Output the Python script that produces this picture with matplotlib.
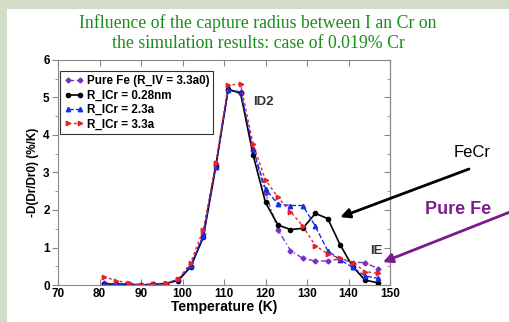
import matplotlib.pyplot as plt
from matplotlib.patches import Rectangle

# temperatures (K)
T = [81, 84, 87, 90, 93, 96, 99, 102, 105, 108, 111, 114,
     117, 120, 123, 126, 129, 132, 135, 138, 141, 144, 147]

pure_fe = [0.05, 0.03, 0.02, 0.0, 0.02, 0.04, 0.14, 0.5, 1.35, 3.2, 5.2, 5.15,
           3.6, 2.45, 1.47, 0.92, 0.71, 0.64, 0.64, 0.70, 0.6, 0.6, 0.44]
r_028 = [0.03, 0.02, 0.02, 0.0, 0.02, 0.04, 0.12, 0.49, 1.27, 3.14, 5.22, 5.11,
         3.47, 2.2, 1.6, 1.48, 1.51, 1.91, 1.77, 1.07, 0.49, 0.13, 0.06]
r_23 = [0.03, 0.02, 0.02, 0.0, 0.02, 0.04, 0.16, 0.52, 1.3, 3.15, 5.2, 5.15,
        3.63, 2.56, 2.16, 2.12, 2.12, 1.57, 0.91, 0.67, 0.47, 0.24, 0.18]
r_33 = [0.22, 0.12, 0.05, 0.01, 0.03, 0.05, 0.15, 0.6, 1.47, 3.24, 5.33, 5.36,
        3.76, 2.8, 2.34, 1.96, 1.57, 1.05, 0.83, 0.71, 0.6, 0.36, 0.31]

labels = ['Pure Fe (R_IV = 3.3a0)', 'R_ICr = 0.28nm', 'R_ICr = 2.3a', 'R_ICr = 3.3a']

fig = plt.figure(figsize=(5.1, 3.22), dpi=100)
fig.patch.set_facecolor('#d3dbc9')
fig.patches.append(Rectangle((7 / 510, 0), 1, 1 - 9 / 322, transform=fig.transFigure,
                             facecolor='white', edgecolor='none', zorder=-5))

ax = fig.add_axes([58 / 510, 1 - 285 / 322, 332 / 510, 225 / 322])

ax.plot(T, pure_fe, linestyle=(0, (4, 2, 1, 2)), color='#7a2fc0', marker='D',
        markersize=2.5, lw=1, label=labels[0])
ax.plot(T, r_028, '-', color='black', marker='o', markersize=3, lw=1.2, label=labels[1])
ax.plot(T, r_23, '--', color='#1530e0', marker='^', markersize=3.2, lw=1, label=labels[2])
ax.plot(T, r_33, linestyle=(0, (2, 2)), color='#e8202a', marker='>', markersize=3.2,
        lw=1, label=labels[3])

ax.set_xlim(70, 150)
ax.set_ylim(0, 6)
ax.set_xticks([70, 80, 90, 100, 110, 120, 130, 140, 150])
ax.set_yticks([0, 1, 2, 3, 4, 5, 6])
ax.set_yticks([0.5, 1.5, 2.5, 3.5, 4.5, 5.5], minor=True)
for s in ax.spines.values():
    s.set_color('#888888')
ax.tick_params(axis='x', direction='in', top=True, length=4, color='#888888',
               labelsize=8.5, pad=2)
ax.tick_params(axis='y', which='both', direction='out', color='#888888', labelsize=8.5, pad=2)
ax.tick_params(axis='y', which='major', length=4)
ax.tick_params(axis='y', which='minor', length=2)
for lab in ax.get_xticklabels() + ax.get_yticklabels():
    lab.set_fontweight('bold')
    lab.set_family('Liberation Sans')

sec = ax.secondary_yaxis('right')
sec.set_yticks([0, 1, 2, 3, 4, 5, 6])
sec.set_yticks([0.5, 1.5, 2.5, 3.5, 4.5, 5.5], minor=True)
sec.tick_params(which='both', direction='in', color='#888888', labelright=False)
sec.tick_params(which='major', length=4)
sec.tick_params(which='minor', length=2)
sec.spines['right'].set_color('#888888')

ax.set_xlabel('Temperature (K)', fontsize=10, fontweight='bold',
              family='Liberation Sans', labelpad=0)
ax.set_ylabel('-D(Dr/Dr0) (%/K)', fontsize=8.5, fontweight='bold',
              family='Liberation Sans', labelpad=3)

leg = ax.legend(loc='upper left', bbox_to_anchor=(0.0, 0.96), fancybox=False,
                edgecolor='#333333', framealpha=1, handlelength=1.6, numpoints=2,
                borderpad=0.35, labelspacing=0.2, handletextpad=0.3, borderaxespad=0.2,
                prop={'family': 'Liberation Sans', 'weight': 'bold', 'size': 8.4})
leg.get_frame().set_linewidth(0.8)

ax.text(119.5, 4.88, 'ID2', fontsize=9.5, fontweight='bold', color='#333333',
        family='Liberation Sans', ha='center', va='center')
ax.text(146.6, 0.9, 'IE', fontsize=9.5, fontweight='bold', color='#333333',
        family='Liberation Sans', ha='center', va='center')

ax.annotate('', xy=(138, 1.81), xytext=(469 / 510, 1 - 169 / 322),
            textcoords='figure fraction', annotation_clip=False,
            arrowprops=dict(arrowstyle='-|>', color='black', lw=2,
                            mutation_scale=14, shrinkA=0, shrinkB=0))
ax.annotate('', xy=(148.3, 0.61), xytext=(1.0, 1 - 212 / 322),
            textcoords='figure fraction', annotation_clip=False,
            arrowprops=dict(arrowstyle='-|>', color='#7a1b8a', lw=2,
                            mutation_scale=14, shrinkA=0, shrinkB=0))
fig.text(472 / 510, 1 - 153 / 322, 'FeCr', fontsize=12, color='black',
         family='Liberation Sans', ha='center', va='center')
fig.text(458 / 510, 1 - 210 / 322, 'Pure Fe', fontsize=13, fontweight='bold',
         color='#7f1f8f', family='Liberation Sans', ha='center', va='center')

fig.text(258 / 510, 1 - 23 / 322, 'Influence of the capture radius between I an Cr on',
         fontsize=12.8, color='#1a8c1a', family='Liberation Serif', ha='center', va='center')
fig.text(258 / 510, 1 - 44 / 322, 'the simulation results: case of 0.019% Cr',
         fontsize=12.8, color='#1a8c1a', family='Liberation Serif', ha='center', va='center')

fig.savefig('out.png', dpi=100, facecolor=fig.get_facecolor())
